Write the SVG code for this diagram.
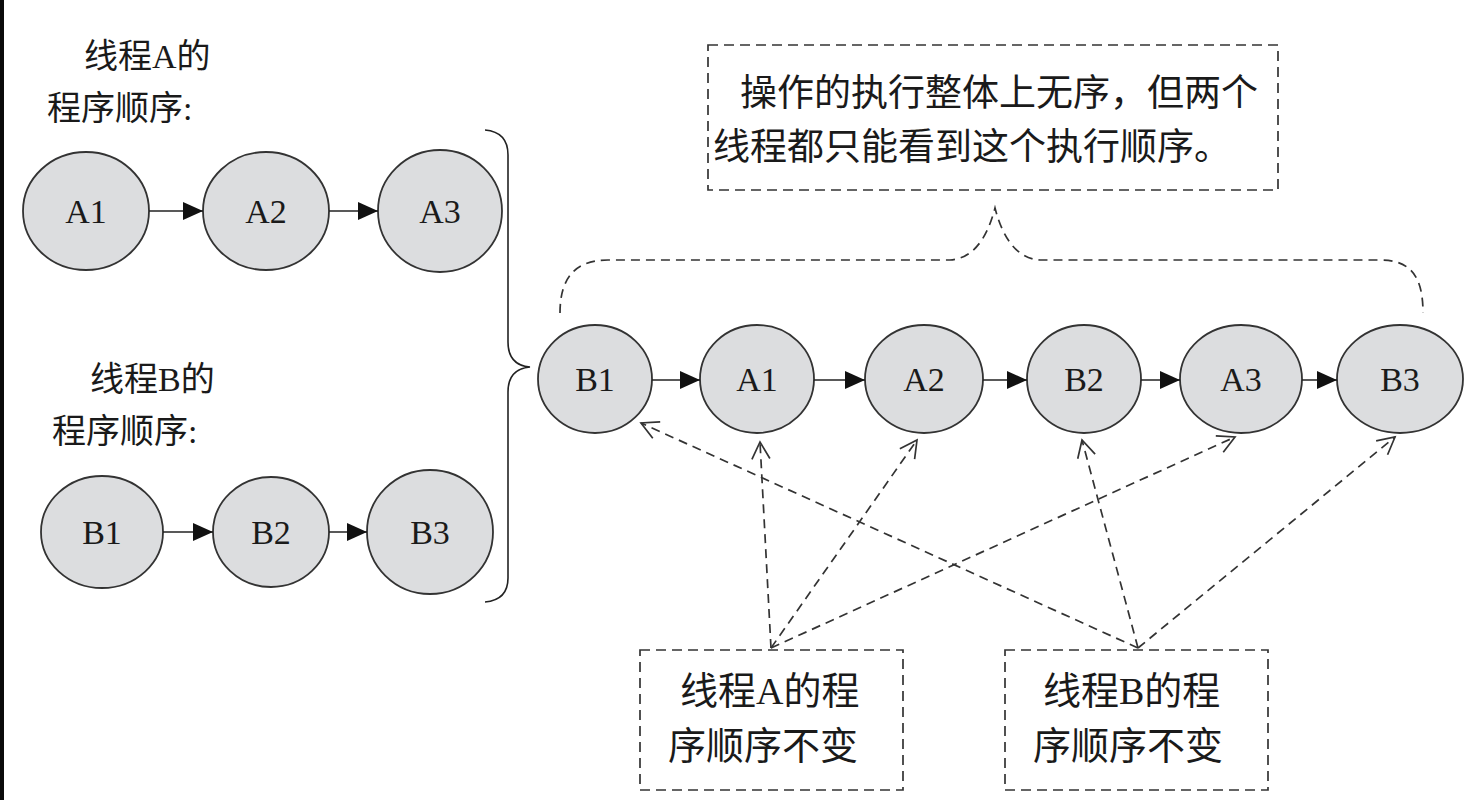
<svg xmlns="http://www.w3.org/2000/svg" width="1467" height="800" viewBox="0 0 1467 800">
<style>
.node ellipse{fill:#dcdddf;stroke:#333;stroke-width:1.8}
.lbl{font-family:"Liberation Serif","Noto Sans CJK SC",serif;font-size:34px;fill:#1a1a1a;text-anchor:middle}
.cn{font-family:"Liberation Serif","Noto Sans CJK SC",serif;fill:#1a1a1a}
.solid{stroke:#222;stroke-width:1.6;fill:none}
.dash{stroke:#333;stroke-width:1.7;fill:none;stroke-dasharray:9 6}
.box{fill:none;stroke:#333;stroke-width:1.7;stroke-dasharray:10 6}
</style>
<defs>
<marker id="tri" markerUnits="userSpaceOnUse" markerWidth="21" markerHeight="18" refX="20" refY="9" orient="auto">
<path d="M0,0 L20,9 L0,18 Z" fill="#111"/>
</marker>
<marker id="open" markerUnits="userSpaceOnUse" markerWidth="22" markerHeight="22" refX="19" refY="11" orient="auto">
<path d="M2,2 L19,11 L2,20" fill="none" stroke="#333" stroke-width="1.7"/>
</marker>
</defs>
<rect width="1467" height="800" fill="#fff"/>
<rect x="0" y="0" width="4" height="800" fill="#0a0a0a"/>

<g id="title-a">
<text class="cn" x="84" y="68" font-size="34">线程A的</text>
<text class="cn" x="47" y="120" font-size="34">程序顺序:</text>
</g>
<g id="title-b">
<text class="cn" x="90" y="391" font-size="34">线程B的</text>
<text class="cn" x="52" y="443" font-size="34">程序顺序:</text>
</g>

<g id="left-A1" class="node"><ellipse cx="86" cy="211" rx="63" ry="59"/><text class="lbl" x="86" y="223">A1</text></g>
<g id="left-A2" class="node"><ellipse cx="266" cy="211" rx="63" ry="59"/><text class="lbl" x="266" y="223">A2</text></g>
<g id="left-A3" class="node"><ellipse cx="440" cy="211" rx="62" ry="61"/><text class="lbl" x="440" y="223">A3</text></g>
<g id="left-B1" class="node"><ellipse cx="102" cy="532" rx="61" ry="56"/><text class="lbl" x="102" y="544">B1</text></g>
<g id="left-B2" class="node"><ellipse cx="271" cy="532" rx="58" ry="55"/><text class="lbl" x="271" y="544">B2</text></g>
<g id="left-B3" class="node"><ellipse cx="430" cy="532" rx="63" ry="62"/><text class="lbl" x="430" y="544">B3</text></g>

<g id="seq-B1" class="node"><ellipse cx="595" cy="379" rx="57" ry="54"/><text class="lbl" x="595" y="391">B1</text></g>
<g id="seq-A1" class="node"><ellipse cx="757" cy="379" rx="57" ry="54"/><text class="lbl" x="757" y="391">A1</text></g>
<g id="seq-A2" class="node"><ellipse cx="924" cy="379" rx="59" ry="54"/><text class="lbl" x="924" y="391">A2</text></g>
<g id="seq-B2" class="node"><ellipse cx="1084" cy="379" rx="57" ry="54"/><text class="lbl" x="1084" y="391">B2</text></g>
<g id="seq-A3" class="node"><ellipse cx="1241" cy="379" rx="61" ry="54"/><text class="lbl" x="1241" y="391">A3</text></g>
<g id="seq-B3" class="node"><ellipse cx="1400" cy="379" rx="63" ry="54"/><text class="lbl" x="1400" y="391">B3</text></g>

<g id="note-top">
<rect class="box" x="708" y="45" width="570" height="145"/>
<text class="cn" x="740" y="106" font-size="37">操作的执行整体上无序，但两个</text>
<text class="cn" x="713" y="160" font-size="37">线程都只能看到这个执行顺序。</text>
</g>
<g id="note-a">
<rect class="box" x="640" y="650" width="263" height="140"/>
<text class="cn" x="680" y="704" font-size="38">线程A的程</text>
<text class="cn" x="668" y="759" font-size="38">序顺序不变</text>
</g>
<g id="note-b">
<rect class="box" x="1005" y="650" width="263" height="140"/>
<text class="cn" x="1043" y="704" font-size="38">线程B的程</text>
<text class="cn" x="1033" y="759" font-size="38">序顺序不变</text>
</g>

<g id="connectors">
<line class="solid" x1="149" y1="211" x2="203" y2="211" marker-end="url(#tri)"/>
<line class="solid" x1="329" y1="211" x2="378" y2="211" marker-end="url(#tri)"/>
<line class="solid" x1="163" y1="532" x2="213" y2="532" marker-end="url(#tri)"/>
<line class="solid" x1="329" y1="532" x2="367" y2="532" marker-end="url(#tri)"/>
<line class="solid" x1="652" y1="380" x2="700" y2="380" marker-end="url(#tri)"/>
<line class="solid" x1="814" y1="380" x2="865" y2="380" marker-end="url(#tri)"/>
<line class="solid" x1="983" y1="380" x2="1027" y2="380" marker-end="url(#tri)"/>
<line class="solid" x1="1141" y1="380" x2="1180" y2="380" marker-end="url(#tri)"/>
<line class="solid" x1="1302" y1="380" x2="1337" y2="380" marker-end="url(#tri)"/>
<path class="solid" d="M485,130 Q508,132 508,155 L508,342 Q508,365 530,367 Q508,369 508,392 L508,578 Q508,600 485,602"/>
<path class="dash" d="M560,313 C560,278 575,260 608,260 L950,260 Q982,258 995,208 Q1008,258 1040,260 L1380,260 C1412,260 1423,278 1423,313"/>
<line class="dash" x1="771" y1="648" x2="760" y2="442" marker-end="url(#open)"/>
<line class="dash" x1="771" y1="648" x2="917" y2="440" marker-end="url(#open)"/>
<line class="dash" x1="771" y1="648" x2="1235" y2="437" marker-end="url(#open)"/>
<line class="dash" x1="1138" y1="648" x2="641" y2="423" marker-end="url(#open)"/>
<line class="dash" x1="1138" y1="648" x2="1082" y2="440" marker-end="url(#open)"/>
<line class="dash" x1="1138" y1="648" x2="1395" y2="437" marker-end="url(#open)"/>
</g>
</svg>
